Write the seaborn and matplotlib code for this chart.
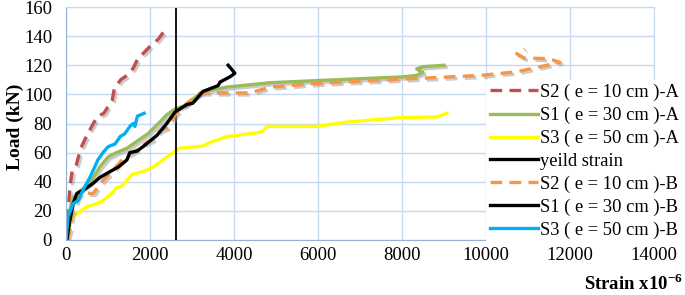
import numpy as np
import pandas as pd
import matplotlib
matplotlib.use("Agg")
import matplotlib.pyplot as plt
import matplotlib.patheffects as pe
import seaborn as sb

# strain (x10^-6) / load (kN)
s2a_x = [0, 50, 100, 150, 250, 350, 500, 650, 750, 900, 1100, 1150, 1300, 1450, 1600, 1700, 2000, 2200, 2400]
s2a_y = [0, 20, 38, 48, 52, 63, 72, 80, 85, 87, 96, 104, 110, 113, 118, 124, 133, 138, 146]

s1a_x = [0, 50, 150, 300, 570, 800, 1000, 1200, 1450, 1700, 1950, 2200, 2400, 2600, 2800, 3260, 3830, 4860, 6000, 8000, 8350, 8500, 8350, 8500, 9000]
s1a_y = [0, 15, 28, 33, 39, 50, 57, 60, 63, 68, 73, 80, 86, 90, 92, 102, 105, 108, 109.5, 112, 113, 115, 117.5, 119, 120]

s3a_x = [0, 50, 140, 260, 500, 740, 880, 1050, 1210, 1330, 1570, 1830, 2070, 2310, 2600, 2710, 3260, 3430, 3830, 4620, 4700, 4780, 5980, 6690, 7950, 8830, 9070]
s3a_y = [0, 5, 16, 18, 23, 25, 27, 31, 36, 37, 45, 47, 50, 55, 61, 63, 64.5, 67, 71, 74, 75, 78, 78, 81, 84, 84.5, 87]

yield_strain = 2620

s2b_x = [20, 95, 140, 290, 400, 570, 650, 880, 1120, 1400, 1690, 1930, 2070, 2240, 2400, 2520, 2600, 2800, 3190, 3830, 4380, 4860, 5980, 8020, 9860, 10730, 11290, 11760, 11500, 10900, 10730, 10930]
s2b_y = [0, 7, 18, 30, 33, 32, 32, 41, 48, 57, 62, 67, 69, 75, 77, 82, 86, 92, 101, 101, 101, 105, 107.5, 110.5, 113, 115.5, 119, 122, 124.5, 125, 128, 131]

s1b_x = [20, 95, 170, 260, 400, 650, 810, 1050, 1240, 1450, 1520, 1690, 1830, 2170, 2400, 2600, 2880, 3020, 3260, 3620, 3670, 3900, 4020, 3950, 3860]
s1b_y = [0, 14, 25, 32, 34, 39, 43, 47, 50, 55, 60, 61, 64, 72, 80, 88, 93, 94, 102, 106, 108.5, 112, 114.5, 117, 120]

s3b_x = [0, 50, 170, 290, 400, 570, 650, 760, 880, 1000, 1170, 1290, 1400, 1520, 1600, 1640, 1700, 1860]
s3b_y = [0, 16, 25, 27, 34, 43, 48, 55, 60, 64, 66, 71, 73, 78, 80, 78, 85, 87]

plt.rcParams['font.family'] = ['Liberation Serif', 'DejaVu Serif']
plt.rcParams['mathtext.fontset'] = 'custom'
plt.rcParams['mathtext.rm'] = 'Liberation Serif:bold'
plt.rcParams['mathtext.bf'] = 'Liberation Serif:bold'

fig = plt.figure(figsize=(6.85, 2.95), dpi=100)
ax = fig.add_axes([66/685, 1-240/295, (654-66)/685, (240-7)/295])

shadow = [pe.SimpleLineShadow(offset=(1.5, -1.5), shadow_color='#999999', alpha=0.5), pe.Normal()]

series = [
    (s2a_x, s2a_y, 'S2 ( e = 10 cm )-A', '#C0504D', (0, (3.5, 2.2)), True),
    (s1a_x, s1a_y, 'S1 ( e = 30 cm )-A', '#9BBB59', '-', True),
    (s3a_x, s3a_y, 'S3 ( e = 50 cm )-A', '#FFFF00', '-', False),
]
series_b = [
    (s2b_x, s2b_y, 'S2 ( e = 10 cm )-B', '#F79646', (0, (3.5, 2.2)), True),
    (s1b_x, s1b_y, 'S1 ( e = 30 cm )-B', '#000000', '-', False),
    (s3b_x, s3b_y, 'S3 ( e = 50 cm )-B', '#00B0F0', '-', False),
]

def draw(x, y, lab, col, ls, shd):
    df = pd.DataFrame({'x': x, 'y': y})
    sb.lineplot(data=df, x='x', y='y', sort=False, estimator=None, ax=ax,
                color=col, linestyle=ls, linewidth=2.4, label=lab,
                path_effects=shadow if shd else None)

for s in series:
    draw(*s)
ax.axvline(yield_strain, color='black', linewidth=1.3, label='yeild strain')
for s in series_b:
    draw(*s)

ax.set_xlim(0, 14000)
ax.set_ylim(0, 160)
ax.set_xticks(np.arange(0, 14001, 2000))
ax.set_yticks(np.arange(0, 161, 20))
ax.grid(True, color='#C6D9F1', linewidth=1)
ax.set_axisbelow(True)
for sp in ax.spines.values():
    sp.set_color('#C6D9F1')
ax.spines['left'].set_color('#95B3D7')
ax.spines['bottom'].set_color('#95B3D7')
ax.tick_params(axis='y', length=0, labelsize=13.5, pad=10)
ax.tick_params(axis='x', length=0, labelsize=13.5, pad=5)
ax.set_xlabel('')
ax.set_ylabel('')

fig.text(0.022, 0.57, 'Load (kN)', rotation=90, ha='center', va='center',
         fontsize=14, fontweight='bold')
fig.text(683/685, 1-284/295, r'Strain x10$^{-6}$', ha='right', va='center',
         fontsize=13.5, fontweight='bold')

leg = ax.legend(loc='upper left', bbox_to_anchor=(486/685, 1-80/295),
                bbox_transform=fig.transFigure, frameon=True, fancybox=False,
                facecolor='white', edgecolor='none', framealpha=1,
                prop={'size': 13.3},
                handlelength=2.6, handletextpad=0.1, labelspacing=0.31,
                borderpad=0.2, borderaxespad=0)
for l in leg.get_lines():
    l.set_path_effects([])
    l.set_linewidth(2.4)

plt.savefig('out.png', dpi=100)
